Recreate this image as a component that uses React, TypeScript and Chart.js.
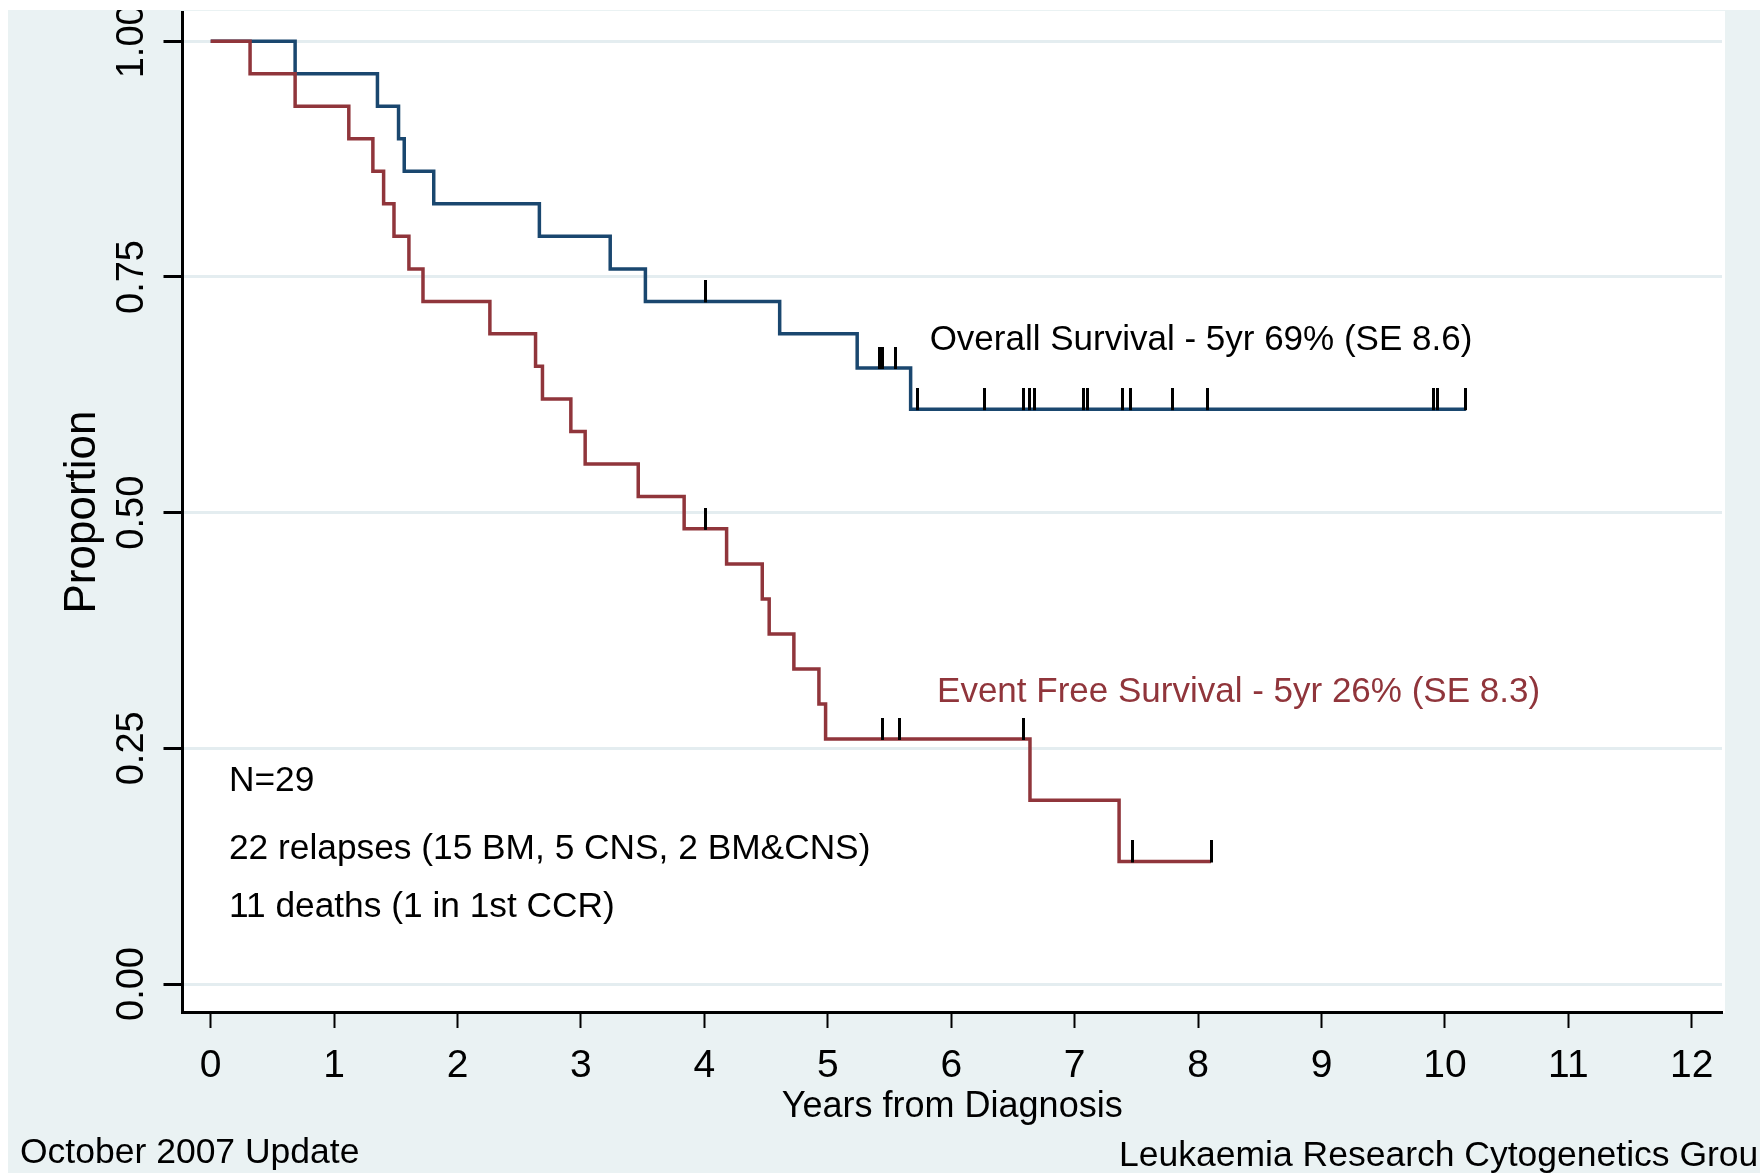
import React, { useEffect, useRef } from 'react';
import { Chart, registerables } from 'chart.js';

Chart.register(...registerables);

// ---- data ----
const xTicks = [0, 1, 2, 3, 4, 5, 6, 7, 8, 9, 10, 11, 12];
const yTicks = [0, 0.25, 0.5, 0.75, 1];
const yTickLabels = ['0.00', '0.25', '0.50', '0.75', '1.00'];

// Overall survival: step times and survival after each step
const osTimes = [0, 0.684, 1.351, 1.522, 1.568, 1.807, 2.663, 3.237, 3.522, 4.61, 5.238, 5.671, 10.17];
const osSurv = [1, 0.9655, 0.931, 0.8966, 0.8621, 0.8276, 0.7931, 0.7586, 0.7241, 0.6897, 0.6534, 0.6098, 0.6098];
const osCensorTimes = [4.01, 5.42, 5.44, 5.55, 5.725, 6.273, 6.587, 6.638, 6.671, 7.07, 7.103, 7.39, 7.449, 7.792, 8.076, 9.907, 9.94, 10.17];
const osCensorSurv = [0.7241, 0.6534, 0.6534, 0.6534, 0.6098, 0.6098, 0.6098, 0.6098, 0.6098, 0.6098, 0.6098, 0.6098, 0.6098, 0.6098, 0.6098, 0.6098, 0.6098, 0.6098];

// Event free survival
const efsTimes = [0, 0.319, 0.684, 1.119, 1.314, 1.401, 1.485, 1.606, 1.72, 2.262, 2.632, 2.688, 2.918, 3.034, 3.464, 3.836, 4.18, 4.469, 4.525, 4.725, 4.928, 4.982, 6.638, 7.36, 8.105];
const efsSurv = [1, 0.9655, 0.931, 0.8966, 0.8621, 0.8276, 0.7931, 0.7586, 0.7241, 0.6897, 0.6552, 0.6207, 0.5862, 0.5517, 0.5172, 0.4828, 0.4456, 0.4085, 0.3713, 0.3342, 0.297, 0.2599, 0.1949, 0.13, 0.13];
const efsCensorTimes = [4.01, 5.44, 5.58, 6.587, 7.47, 8.105];
const efsCensorSurv = [0.4828, 0.2599, 0.2599, 0.2599, 0.13, 0.13];

const osLabel = 'Overall Survival - 5yr 69% (SE 8.6)';
const efsLabel = 'Event Free Survival - 5yr 26% (SE 8.3)';
const noteLines = ['N=29', '22 relapses (15 BM, 5 CNS, 2 BM&CNS)', '11 deaths (1 in 1st CCR)'];
const xTitle = 'Years from Diagnosis';
const yTitle = 'Proportion';
const footLeft = 'October 2007 Update';
const footRight = 'Leukaemia Research Cytogenetics Group';

const W = 1760;
const H = 1173;
const FONT = '"Liberation Sans", Arial, Helvetica, sans-serif';
const BG = '#EAF2F3';
const GRID = '#E4EDF0';
const BLUE = '#1A476F';
const RED = '#90353B';

const pts = (xs: number[], ys: number[]) => xs.map((x, i) => ({ x, y: ys[i] }));

function makeTick(): HTMLCanvasElement {
  const c = document.createElement('canvas');
  c.width = 3;
  c.height = 42;
  const g = c.getContext('2d')!;
  g.fillStyle = '#000';
  g.fillRect(0, 0, 3, 22);
  return c;
}

function text(
  ctx: CanvasRenderingContext2D,
  s: string,
  x: number,
  y: number,
  size: number,
  color: string,
  align: CanvasTextAlign = 'left',
  rot = 0,
) {
  ctx.save();
  ctx.translate(x, y);
  if (rot) ctx.rotate(rot);
  ctx.font = `${size}px ${FONT}`;
  ctx.fillStyle = color;
  ctx.textAlign = align;
  ctx.textBaseline = 'middle';
  ctx.fillText(s, 0, 0);
  ctx.restore();
}

const decor = {
  id: 'decor',
  beforeDraw(chart: any) {
    const { ctx } = chart;
    ctx.save();
    ctx.fillStyle = '#fff';
    ctx.fillRect(0, 0, W, H);
    ctx.fillStyle = BG;
    ctx.fillRect(8, 10, W - 8, H - 10);
    const a = chart.chartArea;
    ctx.fillStyle = '#fff';
    ctx.fillRect(a.left, a.top - 1, a.right - a.left + 3, a.bottom - a.top + 2);
    ctx.restore();
  },
  afterDraw(chart: any) {
    const { ctx } = chart;
    const xs = chart.scales.x;
    const ys = chart.scales.y;
    const a = chart.chartArea;
    ctx.save();
    ctx.beginPath();
    ctx.rect(8, 10, W - 8, H - 10);
    ctx.clip();
    xTicks.forEach((v) => text(ctx, String(v), xs.getPixelForValue(v), 1066, 39, '#000', 'center'));
    yTicks.forEach((v, i) => text(ctx, yTickLabels[i], 133, ys.getPixelForValue(v), 38, '#000', 'center', -Math.PI / 2));
    text(ctx, xTitle, (a.left + a.right) / 2, 1107, 36, '#000', 'center');
    text(ctx, yTitle, 83, (a.top + a.bottom) / 2, 44, '#000', 'center', -Math.PI / 2);
    text(ctx, footLeft, 20, 1153, 35.5, '#000', 'left');
    text(ctx, footRight, 1119, 1156, 35.5, '#000', 'left');
    text(ctx, osLabel, xs.getPixelForValue(5.825), ys.getPixelForValue(0.683), 35, '#000', 'left');
    text(ctx, efsLabel, xs.getPixelForValue(5.885), ys.getPixelForValue(0.309), 35, RED, 'left');
    const noteY = [0.2155, 0.1433, 0.0818];
    noteLines.forEach((s, i) => text(ctx, s, xs.getPixelForValue(0.148), ys.getPixelForValue(noteY[i]), 35.3, '#000', 'left'));
    ctx.restore();
  },
};

export default function App() {
  const ref = useRef<HTMLCanvasElement>(null);
  useEffect(() => {
    const tick = makeTick();
    const chart = new Chart(ref.current!, {
      type: 'line',
      data: {
        datasets: [
          {
            type: 'scatter',
            data: pts(osCensorTimes, osCensorSurv),
            pointStyle: tick as any,
            pointRadius: 3,
            showLine: false,
          } as any,
          {
            type: 'scatter',
            data: pts(efsCensorTimes, efsCensorSurv),
            pointStyle: tick as any,
            pointRadius: 3,
            showLine: false,
          } as any,
          {
            data: pts(efsTimes, efsSurv),
            borderColor: RED,
            borderWidth: 3.5,
            stepped: 'before',
            pointRadius: 0,
            fill: false,
          },
          {
            data: pts(osTimes, osSurv),
            borderColor: BLUE,
            borderWidth: 3.5,
            stepped: 'before',
            pointRadius: 0,
            fill: false,
          },
        ],
      },
      options: {
        animation: false,
        responsive: false,
        devicePixelRatio: 1,
        layout: { padding: { top: 12, right: 38, left: 0, bottom: 0 } },
        plugins: { legend: { display: false }, tooltip: { enabled: false } },
        scales: {
          x: {
            type: 'linear',
            min: -0.2285,
            max: 12.245,
            afterBuildTicks: (s: any) => {
              s.ticks = xTicks.map((v) => ({ value: v }));
            },
            afterFit: (s: any) => {
              s.height = 161;
            },
            ticks: { display: false },
            grid: { drawOnChartArea: false, drawTicks: true, tickLength: 16, tickColor: '#000', tickWidth: 2 },
            border: { display: true, color: '#000', width: 3 },
          },
          y: {
            type: 'linear',
            min: -0.0297,
            max: 1.0311,
            afterBuildTicks: (s: any) => {
              s.ticks = yTicks.map((v) => ({ value: v }));
            },
            afterFit: (s: any) => {
              s.width = 182.5;
            },
            ticks: { display: false },
            grid: { color: GRID, lineWidth: 3, drawTicks: true, tickLength: 19, tickColor: '#000', tickWidth: 3 },
            border: { display: true, color: '#000', width: 3 },
          },
        },
      },
      plugins: [decor],
    });
    return () => chart.destroy();
  }, []);
  return (
    <div style={{ position: 'fixed', left: 0, top: 0, width: W, height: H }}>
      <canvas ref={ref} width={W} height={H} style={{ display: 'block', width: W, height: H }} />
    </div>
  );
}
